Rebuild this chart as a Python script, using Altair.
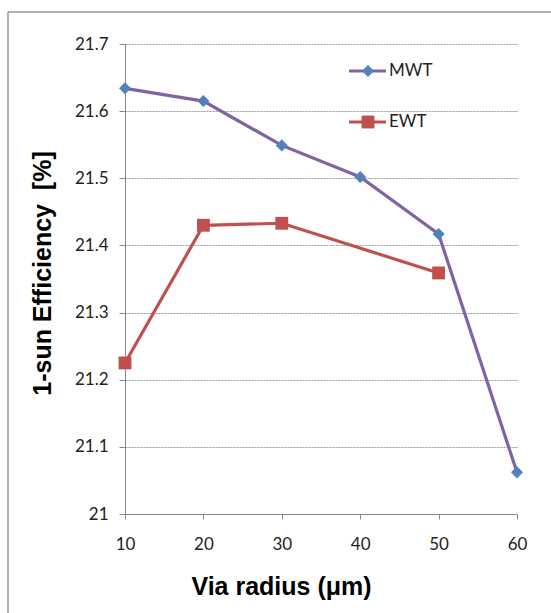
import altair as alt
import pandas as pd

# Via radius in micrometres and the 1-sun efficiency of each cell type
radius_mwt = [10, 20, 30, 40, 50, 60]
eff_mwt = [21.634, 21.615, 21.549, 21.502, 21.417, 21.062]
radius_ewt = [10, 20, 30, 50]
eff_ewt = [21.225, 21.430, 21.433, 21.359]

y_ticks = [21.0, 21.1, 21.2, 21.3, 21.4, 21.5, 21.6, 21.7]
x_ticks = [10, 20, 30, 40, 50, 60]

series_names = ["MWT", "EWT"]
line_colors = ["#8064A2", "#C0504D"]
marker_colors = ["#4F81BD", "#C0504D"]

mwt = pd.DataFrame({"radius": radius_mwt, "eff": eff_mwt, "series": "MWT"})
ewt = pd.DataFrame({"radius": radius_ewt, "eff": eff_ewt, "series": "EWT"})

W, H = 392, 470
LABEL_FONT = "Lato"
TITLE_FONT = "Liberation Sans"

x_enc = alt.X(
    "radius:Q",
    scale=alt.Scale(domain=[10, 60], nice=False),
    axis=alt.Axis(
        values=x_ticks,
        title="Via radius (μm)",
        titleFont=TITLE_FONT,
        titleFontSize=25,
        titleFontWeight="bold",
        titleColor="#000000",
        titleX=156,
        titleY=72,
        titleBaseline="middle",
        labelFont=LABEL_FONT,
        labelFontSize=17,
        labelColor="#222222",
        labelPadding=17,
        labelFlush=False,
        domainColor="#888888",
        tickColor="#888888",
        tickSize=5,
        grid=False,
    ),
)
y_enc = alt.Y(
    "eff:Q",
    scale=alt.Scale(domain=[21.0, 21.7], nice=False, zero=False),
    axis=alt.Axis(
        values=y_ticks,
        format="~g",
        title="1-sun Efficiency\u00a0\u00a0[%]",
        titleFont=TITLE_FONT,
        titleFontSize=25,
        titleFontWeight="bold",
        titleColor="#000000",
        titleAngle=270,
        titleX=-83,
        titleY=229,
        titleAlign="center",
        titleBaseline="middle",
        labelFont=LABEL_FONT,
        labelFontSize=17,
        labelColor="#222222",
        labelPadding=11,
        labelFlush=False,
        domainColor="#888888",
        tickColor="#888888",
        tickSize=6,
        grid=True,
        gridColor="#9a9a9a",
        gridDash=[2, 1],
        gridWidth=1,
    ),
)

mwt_line = alt.Chart(mwt).mark_line(color=line_colors[0], strokeWidth=3.2).encode(x=x_enc, y=y_enc)
mwt_pts = alt.Chart(mwt).mark_point(
    shape="diamond", filled=True, size=145, color=marker_colors[0], opacity=1
).encode(x="radius:Q", y="eff:Q")
ewt_line = alt.Chart(ewt).mark_line(color=line_colors[1], strokeWidth=3.2).encode(x="radius:Q", y="eff:Q")
ewt_pts = alt.Chart(ewt).mark_point(
    shape="square", filled=True, size=165, color=marker_colors[1], opacity=1
).encode(x="radius:Q", y="eff:Q")

# Legend drawn in the upper right of the plot area
legend_df = pd.DataFrame({
    "series": series_names,
    "ly": [27, 78],
    "line": line_colors,
    "marker": marker_colors,
    "shape": ["diamond", "square"],
    "msize": [145, 165],
})
leg_line = alt.Chart(legend_df).mark_rule(strokeWidth=3.2).encode(
    x=alt.value(224), x2=alt.value(261), y=alt.Y("ly:Q", scale=None),
    color=alt.Color("line:N", scale=None),
)
leg_pt = alt.Chart(legend_df).mark_point(filled=True, opacity=1).encode(
    x=alt.value(243), y=alt.Y("ly:Q", scale=None),
    color=alt.Color("marker:N", scale=None),
    shape=alt.Shape("shape:N", scale=None),
    size=alt.Size("msize:Q", scale=None),
)
leg_txt = alt.Chart(legend_df).mark_text(
    align="left", baseline="middle", font=LABEL_FONT, fontSize=17, color="#222222"
).encode(x=alt.value(264), y=alt.Y("ly:Q", scale=None), text="series:N")

# Outer frame around the figure
frame_top = alt.Chart(legend_df.head(1)).mark_rule(color="#999999", strokeWidth=1.5).encode(
    x=alt.value(-117), x2=alt.value(W + 40), y=alt.value(-32)
)
frame_left = alt.Chart(legend_df.head(1)).mark_rule(color="#999999", strokeWidth=1.5).encode(
    x=alt.value(-117), y=alt.value(-32), y2=alt.value(H + 110)
)

chart = alt.layer(
    mwt_line, ewt_line, mwt_pts, ewt_pts, leg_line, leg_pt, leg_txt, frame_top, frame_left
).properties(
    width=W,
    height=H,
    autosize=alt.AutoSizeParams(type="none"),
    padding={"left": 125, "top": 44, "right": 34, "bottom": 99},
    background="#ffffff",
).configure_view(stroke=None)

chart.save("out.html", embed_options={"renderer": "svg", "actions": False})
